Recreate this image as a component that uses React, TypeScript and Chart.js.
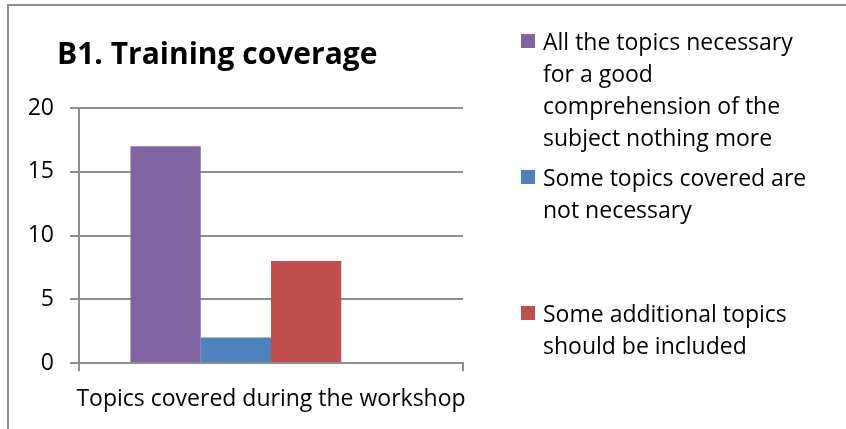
import React, { useEffect, useRef } from "react";
import { Chart, registerables } from "chart.js";

Chart.register(...registerables);

const chartTitle = "B1. Training coverage";
const categories = ["Topics covered during the workshop"];
const legendLines: string[][] = [
  ["All the topics necessary", "for a good", "comprehension of the", "subject nothing more"],
  ["Some topics covered are", "not necessary"],
  ["Some additional topics", "should be included"],
  [],
];
const seriesValues: (number | null)[][] = [[17], [2], [8], [null]];
const seriesColors = ["#8064A2", "#4F81BD", "#C0504D", "#9BBB59"];
const yTicks = [0, 5, 10, 15, 20];

const FONT = "'Open Sans', Lato, sans-serif";
const GRID = "#8e8e8e";

const overlayPlugin = {
  id: "overlay",
  afterDraw(chart: any) {
    const ctx = chart.ctx as CanvasRenderingContext2D;
    ctx.save();
    ctx.textAlign = "left";
    ctx.textBaseline = "alphabetic";
    ctx.fillStyle = "#000";
    ctx.font = `bold 30px ${FONT}`;
    ctx.fillText(chartTitle, 57, 64);
    ctx.font = `23px ${FONT}`;
    const firstBaselines = [50, 186, 322];
    let k = 0;
    legendLines.forEach((lines, i) => {
      if (!lines.length) return;
      const b = firstBaselines[k++];
      ctx.fillStyle = seriesColors[i];
      ctx.fillRect(521, b - 16, 14, 14);
      ctx.fillStyle = "#000";
      lines.forEach((ln, j) => ctx.fillText(ln, 543, b + j * 31.9));
    });
    ctx.restore();
  },
};

export default function App() {
  const ref = useRef<HTMLCanvasElement>(null);
  useEffect(() => {
    document.body.style.margin = "0";
    const chart = new Chart(ref.current!, {
      type: "bar",
      data: {
        labels: categories,
        datasets: legendLines.map((lines, i) => ({
          label: lines.join(" "),
          data: seriesValues[i],
          backgroundColor: seriesColors[i],
          borderWidth: 0,
          categoryPercentage: 0.732,
          barPercentage: 1,
        })),
      },
      options: {
        animation: false,
        responsive: false,
        maintainAspectRatio: false,
        devicePixelRatio: 1,
        layout: { padding: { left: 0, right: 383, top: 108, bottom: 0 } },
        plugins: {
          legend: { display: false },
          title: { display: false },
          tooltip: { enabled: false },
        },
        scales: {
          x: {
            grid: { display: true, drawOnChartArea: false, offset: true, tickLength: 8, color: GRID, lineWidth: 2 },
            border: { display: true, color: GRID, width: 2 },
            ticks: { font: { family: FONT, size: 23 }, color: "#000", padding: 15 },
            afterFit: (s: any) => { s.height = 66; },
          },
          y: {
            min: 0,
            max: 20,
            afterBuildTicks: (s: any) => { s.ticks = yTicks.map((v) => ({ value: v })); },
            ticks: { font: { family: FONT, size: 23 }, color: "#000", padding: 16 },
            grid: { color: GRID, lineWidth: 2, tickLength: 9 },
            border: { display: true, color: GRID, width: 2 },
            afterFit: (s: any) => { s.width = 79; },
          },
        },
      },
      plugins: [overlayPlugin],
    });
    return () => chart.destroy();
  }, []);
  return (
    <div style={{ position: "relative", width: 846, height: 429, overflow: "hidden", background: "#fff" }}>
      <canvas ref={ref} width={846} height={429} style={{ display: "block" }} />
      <div
        style={{
          position: "absolute",
          left: 7,
          top: 4,
          right: -10,
          bottom: -10,
          borderTop: `2px solid ${GRID}`,
          borderLeft: `2px solid ${GRID}`,
          pointerEvents: "none",
        }}
      />
    </div>
  );
}
